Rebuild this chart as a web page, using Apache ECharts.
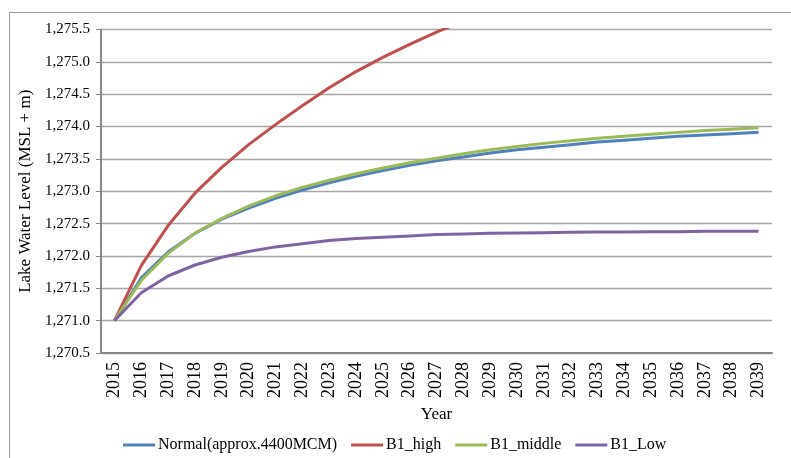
<!DOCTYPE html>
<html>
<head>
<meta charset="utf-8">
<script src="https://cdn.jsdelivr.net/npm/echarts@6/dist/echarts.min.js"></script>
<style>
  html, body { margin: 0; padding: 0; background: #ffffff; }
  #chart { width: 791px; height: 458px; }
</style>
</head>
<body>
<div id="chart"></div>
<script>
// Projected lake water level (MSL + m), 2015–2039
const years = ['2015','2016','2017','2018','2019','2020','2021','2022','2023','2024','2025','2026','2027',
               '2028','2029','2030','2031','2032','2033','2034','2035','2036','2037','2038','2039'];

const normal = [1271.00, 1271.66, 1272.06, 1272.35, 1272.57, 1272.74, 1272.89, 1273.02, 1273.13, 1273.23,
                1273.32, 1273.40, 1273.47, 1273.53, 1273.59, 1273.64, 1273.68, 1273.72, 1273.76, 1273.79,
                1273.82, 1273.85, 1273.87, 1273.89, 1273.91];

// B1_high leaves the plotted range after 2027
const b1High = [1271.00, 1271.85, 1272.47, 1272.97, 1273.37, 1273.72, 1274.03, 1274.32, 1274.60, 1274.85,
                1275.07, 1275.27, 1275.46, 1275.63, null, null, null, null, null, null,
                null, null, null, null, null];

const b1Middle = [1271.00, 1271.62, 1272.04, 1272.35, 1272.58, 1272.77, 1272.93, 1273.06, 1273.17, 1273.27,
                  1273.36, 1273.44, 1273.51, 1273.58, 1273.64, 1273.69, 1273.74, 1273.78, 1273.82, 1273.85,
                  1273.88, 1273.91, 1273.94, 1273.96, 1273.98];

const b1Low = [1271.00, 1271.43, 1271.69, 1271.86, 1271.98, 1272.07, 1272.14, 1272.19, 1272.24, 1272.27,
               1272.29, 1272.31, 1272.33, 1272.34, 1272.35, 1272.355, 1272.36, 1272.365, 1272.37, 1272.37,
               1272.375, 1272.375, 1272.38, 1272.38, 1272.38];

const seriesNames = ['Normal(approx.4400MCM)', 'B1_high', 'B1_middle', 'B1_Low'];
const seriesColors = ['#4F81BD', '#C0504D', '#9BBB59', '#8064A2'];
const seriesData = [normal, b1High, b1Middle, b1Low];

const yMin = 1270.5, yMax = 1275.5, yStep = 0.5;

const serif = 'Liberation Serif';

function fmtLevel(v) {
  const parts = v.toFixed(1).split('.');
  return parts[0].replace(/\B(?=(\d{3})+$)/g, ',') + '.' + parts[1];
}

const chart = echarts.init(document.getElementById('chart'), null, { renderer: 'canvas' });

chart.setOption({
  backgroundColor: '#ffffff',
  animation: false,
  textStyle: { fontFamily: serif },
  graphic: [{
    type: 'rect',
    shape: { x: 9.5, y: 12.5, width: 1000, height: 1000 },
    style: { fill: 'none', stroke: '#9a9a9a', lineWidth: 1 },
    silent: true
  }],
  grid: { left: 101, right: 19, top: 29.5, bottom: 105, containLabel: false },
  legend: {
    data: seriesNames,
    left: 118,
    top: 432,
    icon: 'rect',
    itemWidth: 32,
    itemHeight: 3,
    itemGap: 14,
    textStyle: { fontFamily: serif, fontSize: 16, color: '#000', padding: [0, 0, 0, -2] }
  },
  xAxis: {
    type: 'category',
    data: years,
    boundaryGap: true,
    name: 'Year',
    nameLocation: 'middle',
    nameGap: 50,
    nameTextStyle: { fontFamily: serif, fontSize: 17, color: '#000' },
    axisLine: { lineStyle: { color: '#888888', width: 2 } },
    axisTick: { show: false },
    axisLabel: { rotate: 90, margin: 9, fontFamily: serif, fontSize: 18, color: '#000', interval: 0 }
  },
  yAxis: {
    type: 'value',
    min: yMin,
    max: yMax,
    interval: yStep,
    name: 'Lake Water Level (MSL + m)',
    nameLocation: 'middle',
    nameGap: 64,
    nameTextStyle: { fontFamily: serif, fontSize: 17, color: '#000' },
    axisLine: { show: true, lineStyle: { color: '#888888', width: 2 } },
    axisTick: { show: true, inside: false, length: 5, lineStyle: { color: '#888888' } },
    axisLabel: { margin: 11, fontFamily: serif, fontSize: 15, color: '#000', formatter: fmtLevel },
    splitLine: { show: true, lineStyle: { color: '#a6a6a6', width: 1.3 } }
  },
  series: seriesData.map((d, i) => ({
    name: seriesNames[i],
    type: 'line',
    data: d,
    symbol: 'none',
    clip: true,
    color: seriesColors[i],
    lineStyle: { color: seriesColors[i], width: 3 }
  }))
});
</script>
</body>
</html>
